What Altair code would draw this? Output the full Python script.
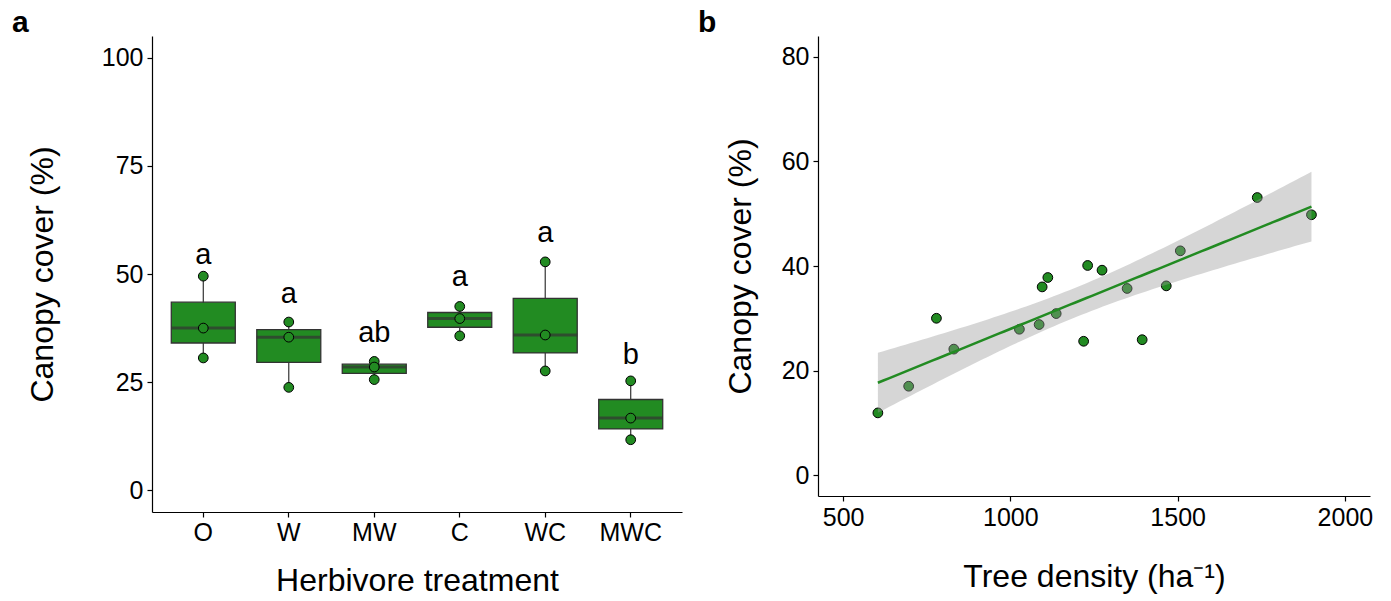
import altair as alt
import pandas as pd
import numpy as np

FONT = "Liberation Sans"
GREEN = "#228B22"

# ---------------- Panel a data ----------------
treatments = ["O", "W", "MW", "C", "WC", "MWC"]
cover_O = [49.5, 37.5, 30.6]
cover_W = [38.9, 35.4, 23.8]
cover_MW = [29.8, 28.5, 25.6]
cover_C = [42.5, 39.7, 35.7]
cover_WC = [52.8, 35.9, 27.6]
cover_MWC = [25.3, 16.7, 11.7]
letters = ["a", "a", "ab", "a", "a", "b"]
letter_y = [52.4, 43.3, 34.4, 47.3, 57.3, 29.3]

groups = [cover_O, cover_W, cover_MW, cover_C, cover_WC, cover_MWC]
rows = []
for t, vals in zip(treatments, groups):
    for v in vals:
        rows.append({"treatment": t, "cover": v})
df_a = pd.DataFrame(rows)
df_letters = pd.DataFrame({"treatment": treatments, "letter": letters, "ly": letter_y})

# ---------------- Panel b data ----------------
density = [604, 696, 779, 831, 1027, 1086, 1095, 1112, 1137, 1219, 1231, 1274,
           1349, 1394, 1466, 1508, 1738, 1900]
canopy = [11.9, 17.0, 30.0, 24.1, 27.9, 28.8, 36.0, 37.8, 30.9, 25.6, 40.1, 39.2,
          35.7, 25.9, 36.2, 42.9, 53.1, 49.8]
df_b = pd.DataFrame({"density": density, "cover": canopy})

# linear model fit with 95% confidence band (as geom_smooth(method="lm"))
x = np.array(density, dtype=float)
y = np.array(canopy, dtype=float)
n = len(x)
xbar, ybar = x.mean(), y.mean()
sxx = ((x - xbar) ** 2).sum()
slope = ((x - xbar) * (y - ybar)).sum() / sxx
icpt = ybar - slope * xbar
resid = y - (icpt + slope * x)
s = np.sqrt((resid ** 2).sum() / (n - 2))
tval = 2.119905  # t(0.975, df=16)
xs = np.linspace(x.min(), x.max(), 80)
fit = icpt + slope * xs
se = s * np.sqrt(1.0 / n + (xs - xbar) ** 2 / sxx)
df_fit = pd.DataFrame({"density": xs, "fit": fit, "lo": fit - tval * se, "hi": fit + tval * se})

# ---------------- common axis styling ----------------
def axis_common(**kw):
    base = dict(grid=False, domainColor="black", domainWidth=1.2, tickColor="black",
                tickSize=5, tickWidth=1.2, labelColor="black", labelFontSize=25,
                labelFont=FONT, titleFont=FONT, titleFontSize=32, titleFontWeight="normal",
                titleColor="black", titleBaseline="alphabetic", labelPadding=4)
    base.update(kw)
    return alt.Axis(**base)

WA, HA = 530, 476
WB, HB = 552, 460

xa = alt.X("treatment:N", sort=treatments,
           scale=alt.Scale(paddingInner=0, paddingOuter=0.1),
           axis=axis_common(title="Herbivore treatment", labelAngle=0,
                            titleX=WA / 2, titleY=78, labelPadding=3))
ya_scale = alt.Scale(domain=[-5, 105], nice=False, zero=False)
ya_axis = axis_common(title="Canopy cover (%)", values=[0, 25, 50, 75, 100],
                      titleAngle=-90, titleX=-100, titleY=HA / 2)

base_a = alt.Chart(df_a)
agg = base_a.transform_aggregate(
    q1="q1(cover)", q3="q3(cover)", med="median(cover)",
    lo="min(cover)", hi="max(cover)", groupby=["treatment"])

whisk = agg.mark_rule(color="#333333", strokeWidth=1.2).encode(
    x=xa, y=alt.Y("lo:Q", scale=ya_scale, axis=ya_axis), y2="hi:Q")
box = agg.mark_bar(size=64, fill=GREEN, stroke="#333333", strokeWidth=1.3).encode(
    x=xa, y=alt.Y("q1:Q", scale=ya_scale), y2="q3:Q")
med = agg.mark_tick(size=64, thickness=3, color="#333333").encode(
    x=xa, y=alt.Y("med:Q", scale=ya_scale))
pts_a = base_a.mark_circle(size=95, color=GREEN, stroke="black", strokeWidth=1,
                           opacity=1).encode(
    x=xa, y=alt.Y("cover:Q", scale=ya_scale))
txt = alt.Chart(df_letters).mark_text(fontSize=29, font=FONT, baseline="alphabetic",
                                      color="black").encode(
    x=xa, y=alt.Y("ly:Q", scale=ya_scale), text="letter:N")

panel_a = alt.layer(whisk, box, med, pts_a, txt).properties(
    width=WA, height=HA,
    title=alt.TitleParams("a", anchor="start", frame="group", dx=-140, fontSize=30,
                          fontWeight="bold", font=FONT, baseline="alphabetic", offset=-26,
                          color="black"))

# ---------------- Panel b ----------------
xb_scale = alt.Scale(domain=[425, 2075], nice=False, zero=False)
yb_scale = alt.Scale(domain=[-4, 84], nice=False, zero=False)
xb_axis = axis_common(title="Tree density (ha⁻¹)", values=[500, 1000, 1500, 2000],
                      format="d", titleX=WB / 2, titleY=90)
yb_axis = axis_common(title="Canopy cover (%)", values=[0, 20, 40, 60, 80],
                      titleAngle=-90, titleX=-68, titleY=HB / 2)

pts_b = alt.Chart(df_b).mark_circle(size=95, color=GREEN, stroke="black",
                                    strokeWidth=1, opacity=1).encode(
    x=alt.X("density:Q", scale=xb_scale, axis=xb_axis),
    y=alt.Y("cover:Q", scale=yb_scale, axis=yb_axis))
band = alt.Chart(df_fit).mark_area(color="#999999", opacity=0.4).encode(
    x=alt.X("density:Q", scale=xb_scale), y=alt.Y("lo:Q", scale=yb_scale), y2="hi:Q")
line = alt.Chart(df_fit).mark_line(color=GREEN, strokeWidth=2.5).encode(
    x=alt.X("density:Q", scale=xb_scale), y=alt.Y("fit:Q", scale=yb_scale))

panel_b = alt.layer(pts_b, band, line).properties(
    width=WB, height=HB,
    title=alt.TitleParams("b", anchor="start", frame="group", dx=-120, fontSize=30,
                          fontWeight="bold", font=FONT, baseline="alphabetic", offset=-26,
                          color="black"))

chart = alt.hconcat(panel_a, panel_b, spacing=16).properties(
    padding={"left": 12, "top": 8, "right": 5, "bottom": 5},
    background="white",
).configure_view(stroke=None).resolve_scale(x="independent", y="independent")

chart.save("out.html", embed_options={"renderer": "svg", "actions": False})
